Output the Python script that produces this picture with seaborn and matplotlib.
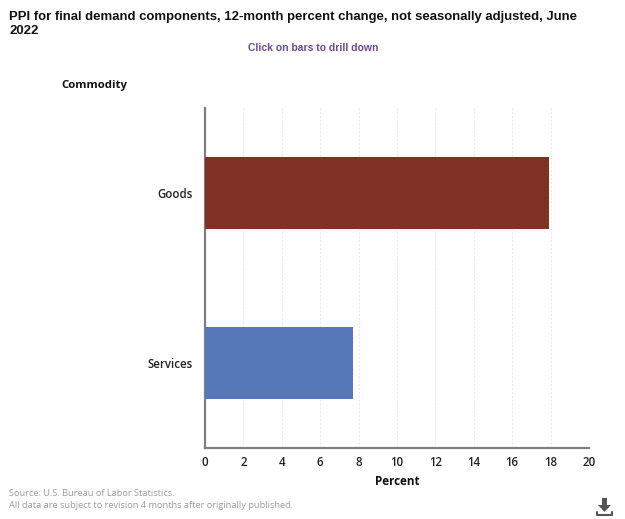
import pandas as pd
import seaborn as sns
import matplotlib.pyplot as plt
from matplotlib.lines import Line2D
from matplotlib.patches import Polygon

categories = ['Goods', 'Services']
percent_change = [17.9, 7.7]
bar_colors = ['#813025', '#5677b8']
x_ticks = [0, 2, 4, 6, 8, 10, 12, 14, 16, 18, 20]

W, H = 625, 519

sns.set_style('white')
plt.rcParams['font.family'] = ['Open Sans', 'DejaVu Sans']

df = pd.DataFrame({'commodity': categories, 'percent': percent_change})

fig = plt.figure(figsize=(W / 100, H / 100), dpi=100)
ax = fig.add_axes([205 / W, 1 - 448 / H, 384 / W, 340 / H])

sns.barplot(data=df, x='percent', y='commodity', hue='commodity',
            palette=bar_colors, legend=False, width=0.42, saturation=1,
            linewidth=0, ax=ax, zorder=3)

ax.set_xlim(0, 20)
ax.set_ylim(1.5, -0.5)
ax.set_xticks(x_ticks)
ax.grid(axis='x', color='#ebebeb', linewidth=0.8, linestyle=(0, (2, 1.5)), zorder=0)
ax.grid(axis='y', visible=False)

# only left and bottom axis lines
sns.despine(ax=ax)
for side in ['left', 'bottom']:
    ax.spines[side].set_color('#808080')
    ax.spines[side].set_linewidth(1.6)

ax.tick_params(axis='x', length=0, pad=6, labelcolor='#222222')
ax.tick_params(axis='y', length=0, pad=9, labelcolor='#222222')
for label in ax.get_xticklabels() + ax.get_yticklabels():
    label.set_fontsize(8.3)
    label.set_fontweight('semibold')
ax.set_xlabel('Percent', fontsize=8.4, fontweight='bold', color='#111111', labelpad=4)
ax.set_ylabel('')

# Titulos e notas
fig.text(9 / W, 1 - 11 / H, 'PPI for final demand components, 12-month percent change, not seasonally adjusted, June\n2022',
         family='Liberation Sans', fontsize=9.45, fontweight='bold', color='#111111',
         va='top', linespacing=1.2)
fig.text(313 / W, 1 - 47.5 / H, 'Click on bars to drill down', family='Liberation Sans',
         fontsize=7.45, fontweight='bold', color='#6a4a94', ha='center', va='center')
fig.text(61 / W, 1 - 85.5 / H, 'Commodity', fontsize=8.2, fontweight='bold',
         color='#111111', va='center')
fig.text(9 / W, 1 - 494 / H, 'Source: U.S. Bureau of Labor Statistics.', fontsize=6.67,
         color='#a09a9a', va='center')
fig.text(9 / W, 1 - 505 / H, 'All data are subject to revision 4 months after originally published.',
         fontsize=6.67, color='#a09a9a', va='center')

# Icone de download
def px(x, y):
    return (x / W, 1 - y / H)

arrow = [px(602, 498), px(607, 498), px(607, 505), px(611, 505), px(604.5, 512), px(598, 505), px(602, 505)]
fig.add_artist(Polygon(arrow, closed=True, facecolor='#555555', edgecolor='none', transform=fig.transFigure))
tray = [px(597, 512), px(597, 515), px(612, 515), px(612, 512)]
fig.add_artist(Line2D([p[0] for p in tray], [p[1] for p in tray], color='#555555', linewidth=1.5,
                      transform=fig.transFigure))

fig.savefig('out.png', dpi=100)
